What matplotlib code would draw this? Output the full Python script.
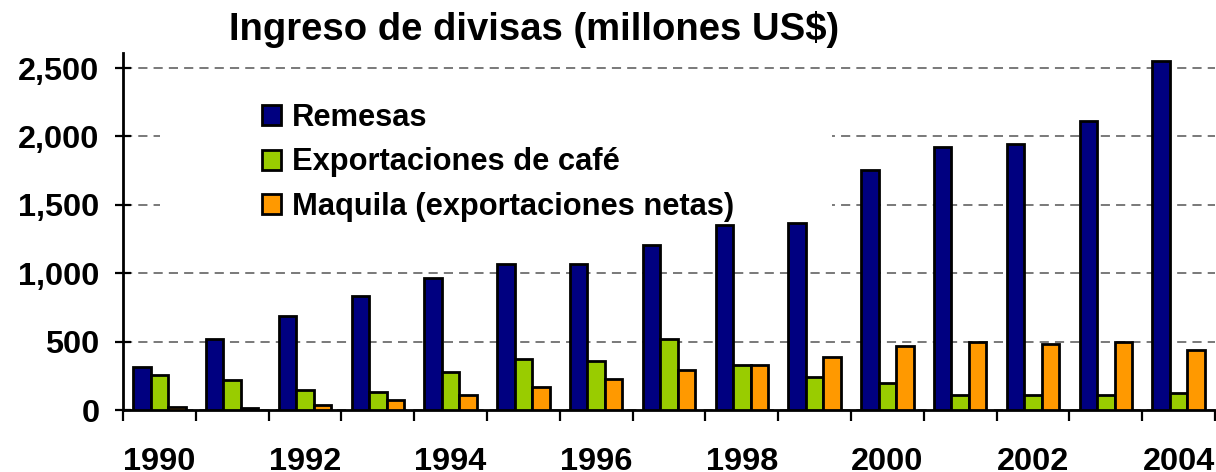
import numpy as np
import matplotlib
matplotlib.use("Agg")
import matplotlib.pyplot as plt
from matplotlib.patches import Rectangle

# datos (millones US$)
anios = list(range(1990, 2005))
remesas = [318, 519, 687, 836, 965, 1070, 1070, 1204, 1350, 1370, 1757, 1926, 1942, 2110, 2550]
cafe = [259, 222, 149, 129, 276, 370, 355, 518, 330, 240, 200, 107, 107, 107, 126]
maquila = [20, 18, 39, 73, 113, 167, 223, 296, 331, 390, 465, 500, 480, 500, 441]
etiquetas = ["Remesas", "Exportaciones de café", "Maquila (exportaciones netas)"]

plt.rcParams['font.family'] = ['Liberation Sans', 'DejaVu Sans']
plt.rcParams['font.weight'] = 'bold'

fig = plt.figure(figsize=(12.16, 4.72), dpi=100)
ax = fig.add_axes([123/1216, 62/472, 1092/1216, 357/472])
ax.set_axisbelow(True)

x = np.arange(len(anios))
w = 0.24
colores = ['#000080', '#99CC00', '#FF9900']
for i, serie in enumerate([remesas, cafe, maquila]):
    ax.bar(x + (i - 1) * w, serie, w, color=colores[i], edgecolor='black',
           linewidth=2, label=etiquetas[i], zorder=3)

ax.set_xlim(-0.5, len(anios) - 0.5)
ax.set_ylim(0, 2610)

ax.set_yticks([0, 500, 1000, 1500, 2000, 2500])
ax.set_yticklabels(['0', '500', '1,000', '1,500', '2,000', '2,500'])
ax.yaxis.grid(True, linestyle=(0, (6, 4)), color='#555555', linewidth=1.1)
ax.tick_params(axis='y', direction='inout', length=12, width=1.6, labelsize=23.4, pad=11)

ax.set_xticks(x[::2])
ax.set_xticklabels([str(a) for a in anios[::2]])
ax.set_xticks(np.arange(-0.5, len(anios)), minor=True)
ax.tick_params(axis='x', which='major', length=0, labelsize=23.4, pad=27)
ax.tick_params(axis='x', which='minor', direction='out', length=8, width=1.6)

for s in ['top', 'right']:
    ax.spines[s].set_visible(False)
for s in ['left', 'bottom']:
    ax.spines[s].set_linewidth(2)

# fondo blanco de la leyenda (tapa la rejilla)
ax.add_patch(Rectangle((0.034, 0.527), 0.615, 0.36, transform=ax.transAxes,
                       facecolor='white', edgecolor='none', zorder=1))

leg = ax.legend(loc='upper left', bbox_to_anchor=(0.1275, 0.86), frameon=False,
                prop={'size': 22.2, 'weight': 'bold'}, borderpad=0, borderaxespad=0,
                handlelength=0.62, handleheight=0.62, handletextpad=0.33,
                labelspacing=0.47)

fig.text(534/1216, 1 - 30/472, "Ingreso de divisas (millones US$)", ha='center',
         va='center', fontsize=27.5, fontweight='bold')

fig.savefig('out.png', dpi=100)
